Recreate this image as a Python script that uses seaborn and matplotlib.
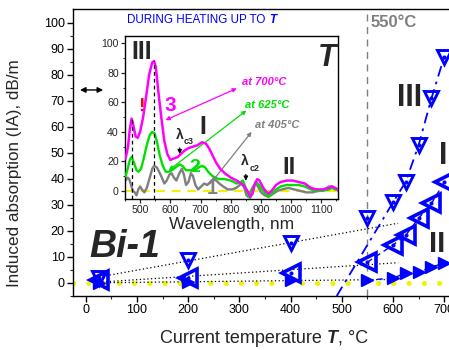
import numpy as np
import matplotlib
matplotlib.use("Agg")
import matplotlib.pyplot as plt
import seaborn as sns

sns.set_style("ticks")
plt.rcParams["font.family"] = ["Liberation Sans", "DejaVu Sans"]

# ---- induced absorption vs. current temperature (main panel) ----
temps_low = [25, 200, 400, 550]
temps_high = [600, 625, 650, 675, 700]
ia_III_low = [2, 9, 15.3, 25]
ia_III_high = [31, 39, 53, 71, 87]
ia_I_low = [1, 2, 4, 8]
ia_I_high = [14.6, 18.4, 24.9, 30.6, 38.7]
ia_II_low = [0, 0.5, 1.1, 1.1]
ia_II_high = [1.9, 3.8, 4.2, 6.1, 7.7]

# high-temperature trend of band III (dash-dot)
trend_T = [490, 600, 625, 650, 675, 700]
trend_III = [-5, 31, 39, 53, 71, 87]

# ---- IA spectra (inset) ----
wl_700 = [452, 460, 466, 472, 478, 485, 492, 500, 510, 520, 530, 540, 546, 552, 560,
          570, 580, 590, 600, 612, 625, 635, 645, 660, 675, 690, 705, 718, 728, 740,
          752, 765, 780, 800, 820, 835, 845, 855, 865, 872, 880, 888, 895, 905, 915,
          925, 935, 950, 965, 985, 1005, 1025, 1045, 1065, 1085, 1105, 1125, 1135,
          1145, 1155]
ia_700 = [22, 30, 42, 49, 44, 37, 36, 40, 50, 64, 79, 87, 88, 84, 68,
          50, 34, 25, 21, 22, 23, 25, 27, 29, 30, 31, 33, 32, 29, 24,
          19, 15, 12, 9, 7, 5, 3, 0, -4, -2, 5, 8, 7, 3, 0,
          -2, 0, 4, 6, 7, 7, 6, 5, 2, 1, 1, 2, 3,
          2, 1]

wl_625 = [452, 460, 466, 472, 480, 488, 495, 503, 512, 522, 532, 540, 548, 556, 565,
          575, 585, 595, 605, 618, 630, 640, 652, 665, 680, 695, 705, 715, 725, 740,
          760, 780, 800, 820, 833, 840, 848, 856, 863, 870, 878, 885, 893, 903, 915,
          925, 935, 950, 965, 985, 1005, 1025, 1045, 1065, 1085, 1105, 1125, 1135,
          1145, 1155]
ia_625 = [10, 16, 21, 23, 19, 14, 13, 15, 22, 31, 38, 40, 39, 33, 24,
          17, 13, 13, 14, 16, 18, 17, 14, 14, 14, 16, 17, 16, 13, 10,
          8, 8, 7, 5, 6, 7, 3, -2, -5, -1, 4, 6, 4, 1, -2,
          -4, -2, 1, 3, 4, 4, 4, 3, 1, 0, 0, 1, 2,
          1, 1]

wl_405 = [452, 458, 464, 470, 476, 482, 488, 494, 500, 506, 514, 522, 532, 540, 547,
          555, 563, 572, 580, 588, 597, 604, 612, 620, 630, 638, 645, 652, 660, 668,
          675, 683, 692, 702, 712, 722, 732, 742, 752, 762, 775, 790, 805, 818, 830,
          838, 845, 852, 858, 866, 874, 882, 890, 900, 912, 925, 940, 955, 970, 990,
          1010, 1030, 1050, 1070, 1090, 1110, 1125, 1135, 1145, 1155]
ia_405 = [7, 9, 8, 4, 0, -1, -3, 1, 3, 1, -1, 2, 9, 15, 17,
          16, 13, 9, 5, 7, 11, 12, 9, 7, 12, 15, 11, 4, 6, 12,
          10, 4, 1, 3, 5, 4, 6, 8, 7, 5, 3, 1, 1, 2, 4,
          5, 2, -3, -4, 0, 3, 5, 3, -1, -3, -4, -2, 0, 1, 2,
          1, 0, -1, -1, 0, 1, 3, 3, 2, 0]

BLUE = "#0000ff"
MAGENTA = "#ff00ff"
GREEN = "#00e000"
GRAY = "#7f7f7f"
YELLOW = "#f2f200"

fig = plt.figure(figsize=(4.49, 3.5), dpi=100)
ax = fig.add_axes([0.1626, 0.1543, 0.861, 0.8197])
ax.set_xlim(-25, 730)
ax.set_ylim(-5, 105.3)

ax.axvline(550, color=GRAY, lw=1.0, ls=(0, (5, 4)), zorder=1)
ax.axhline(0, color=YELLOW, lw=3.6, ls=(0, (0.05, 3.0)),
           dash_capstyle="round", zorder=1)

# dotted linear trends of the low-temperature points
t_fit = np.array([25, 610])
for vals, npts in ((ia_III_low, 3), (ia_I_low, 4), (ia_II_low, 4)):
    k, b = np.polyfit(temps_low[:npts], vals[:npts], 1)
    sns.lineplot(x=t_fit, y=k * t_fit + b, ax=ax, color="black", lw=0.9,
                 ls=(0, (1, 2)), zorder=2)

sns.lineplot(x=trend_T, y=trend_III, ax=ax, color=BLUE, lw=1.3,
             ls=(0, (6, 3, 1.5, 3)), zorder=2)
sns.lineplot(x=temps_low[-1:] + temps_high, y=ia_I_low[-1:] + ia_I_high, ax=ax,
             color=BLUE, lw=1.0, ls=(0, (4, 3)), zorder=2)
sns.lineplot(x=temps_low[-1:] + temps_high, y=ia_II_low[-1:] + ia_II_high, ax=ax,
             color=BLUE, lw=1.0, ls=(0, (4, 3)), zorder=2)

all_T = temps_low + temps_high
for vals, mk, ms, mew, fill in ((ia_III_low + ia_III_high, "v", 10.5, 2.1, "none"),
                               (ia_I_low + ia_I_high, "<", 13, 2.6, "none"),
                               (ia_II_low + ia_II_high, ">", 9, 1.0, BLUE)):
    sns.lineplot(x=all_T, y=vals, ax=ax, ls="", marker=mk, markersize=ms,
                 markerfacecolor=fill, markeredgecolor=BLUE,
                 markeredgewidth=mew, zorder=4)
    if fill == "none":
        sns.lineplot(x=all_T, y=vals, ax=ax, ls="", marker="o", markersize=2.2,
                     markerfacecolor=BLUE, markeredgecolor=BLUE, zorder=4)

ax.set_xticks(np.arange(0, 701, 100))
ax.set_yticks(np.arange(0, 101, 10))
ax.set_xticks(np.arange(-0, 730, 50), minor=True)
ax.set_yticks(np.arange(-5, 105, 5), minor=True)
ax.tick_params(axis="both", which="major", direction="out", length=4, width=1,
               labelsize=9, pad=2, color="black", labelcolor="black")
ax.tick_params(axis="both", which="minor", direction="out", length=2.2, width=0.8)
ax.tick_params(top=False, right=False, which="both")
for s in ("left", "bottom", "top"):
    ax.spines[s].set_visible(True)
    ax.spines[s].set_color("black")
    ax.spines[s].set_linewidth(1.0)
ax.spines["right"].set_visible(False)
ax.set_xlabel("")
ax.set_ylabel("Induced absorption (IA), dB/m", fontsize=12.3)
ax.yaxis.set_label_coords(-0.132, 0.43)

ax.text(556, 100, "550°C", color=GRAY, fontsize=12, fontweight="bold",
        ha="left", va="center")
ax.text(633, 71, "III", fontsize=22, fontweight="bold", ha="center", va="center")
ax.text(697, 49, "I", fontsize=22, fontweight="bold", ha="center", va="center")
ax.text(686, 15, "II", fontsize=21, fontweight="bold", ha="center", va="center")
ax.text(76, 14, "Bi-1", fontsize=27, fontweight="bold", fontstyle="italic",
        ha="center", va="center")

fig.add_artist(matplotlib.patches.FancyArrowPatch(
    (0.172, 0.743), (0.236, 0.743), transform=fig.transFigure,
    arrowstyle="<|-|>", mutation_scale=8, color="black", lw=1.0))

# headline and x label with a bold-italic T
t_head = fig.text(0.283, 0.943, "DURING HEATING UP TO ", color=BLUE, fontsize=8.4,
                  ha="left", va="center")
ax.annotate("T", xy=(1, 0), xycoords=t_head, ha="left", va="bottom",
            color=BLUE, fontsize=8.4, fontweight="bold", fontstyle="italic")
t_xl = fig.text(0.357, 0.034, "Current temperature ", fontsize=13,
                ha="left", va="center")
t_xl2 = ax.annotate("T", xy=(1, 0), xycoords=t_xl, ha="left", va="bottom",
                    fontsize=13, fontweight="bold", fontstyle="italic")
ax.annotate(", °C", xy=(1, 0), xycoords=t_xl2, ha="left", va="bottom", fontsize=13)

# ---- inset: IA spectra ----
axi = fig.add_axes([0.2784, 0.4314, 0.4744, 0.4657])
axi.set_facecolor("white")
axi.set_xlim(452, 1155)
axi.set_ylim(-5.5, 105)
axi.axhline(0, color=YELLOW, lw=1.6, ls=(0, (4, 3)), zorder=1)
sns.lineplot(x=wl_405, y=ia_405, ax=axi, color=GRAY, lw=1.7, sort=False, zorder=2)
sns.lineplot(x=wl_625, y=ia_625, ax=axi, color=GREEN, lw=1.7, sort=False, zorder=3)
sns.lineplot(x=wl_700, y=ia_700, ax=axi, color=MAGENTA, lw=1.8, sort=False, zorder=4)

for wl_peak in (472, 546):
    peak = max(v for w, v in zip(wl_700, ia_700) if abs(w - wl_peak) < 3)
    axi.vlines(wl_peak, -5.5, peak, color="black", lw=0.9, ls=(0, (3, 2.5)), zorder=5)

axi.set_xticks(np.arange(500, 1101, 100))
axi.set_yticks(np.arange(0, 101, 20))
axi.set_xticks(np.arange(450, 1151, 50), minor=True)
axi.set_yticks(np.arange(0, 101, 10), minor=True)
axi.tick_params(axis="both", which="major", direction="out", length=3, width=0.9,
                labelsize=7.6, pad=1.5)
axi.tick_params(axis="both", which="minor", direction="out", length=1.6, width=0.7)
for s in axi.spines.values():
    s.set_visible(True)
    s.set_color("black")
    s.set_linewidth(1.0)
axi.set_ylabel("")
axi.set_xlabel("Wavelength, nm", fontsize=12.5, labelpad=1)

axi.text(505, 94, "III", fontsize=18, fontweight="bold", ha="center", va="center")
axi.text(504, 57, "!", fontsize=14, fontweight="bold", color="red",
         ha="center", va="center")
axi.text(600, 58, "3", fontsize=15, fontweight="bold", color=MAGENTA,
         ha="center", va="center")
axi.text(709, 43, "I", fontsize=18, fontweight="bold", ha="center", va="center")
axi.text(681, 16, "2", fontsize=14, fontweight="bold", color=GREEN,
         ha="center", va="center")
axi.text(738, 1, "1", fontsize=14, fontweight="bold", color=GRAY,
         ha="center", va="center")
axi.text(992, 16, "II", fontsize=17, fontweight="bold", ha="center", va="center")
axi.text(1118, 90, "T", fontsize=22, fontweight="bold", fontstyle="italic",
         ha="center", va="center")

# cutoff wavelengths: bold lambda with a small bold subscript
for lx, ly, sub, ax_x, y0, y1 in ((630, 38, "c3", 631, 31, 23),
                                  (848, 20, "c2", 850, 13, 5)):
    lam = axi.text(lx, ly, "λ", fontsize=10, fontweight="bold",
                   ha="center", va="center")
    axi.annotate(sub, xy=(1, 0), xycoords=lam, ha="left", va="center",
                 fontsize=6.5, fontweight="bold")
    axi.annotate("", xy=(ax_x, y1), xytext=(ax_x, y0),
                 arrowprops=dict(arrowstyle="-|>", color="black", lw=0.9,
                                 mutation_scale=6))

for txt, col, tx, ty, a0, a1 in (("at 700°C", MAGENTA, 838, 74, (584, 48), (820, 69.5)),
                                 ("at 625°C", GREEN, 846, 58, (595, 14), (852, 54.5)),
                                 ("at 405°C", GRAY, 880, 45, (737, 6), (869, 40))):
    axi.text(tx, ty, txt, color=col, fontsize=8, fontweight="bold",
             fontstyle="italic", ha="left", va="center")
    axi.annotate("", xy=a1, xytext=a0,
                 arrowprops=dict(arrowstyle="<|-|>", color=col, lw=0.9,
                                 mutation_scale=6, shrinkA=0, shrinkB=0))

fig.savefig("out.png", dpi=100)
